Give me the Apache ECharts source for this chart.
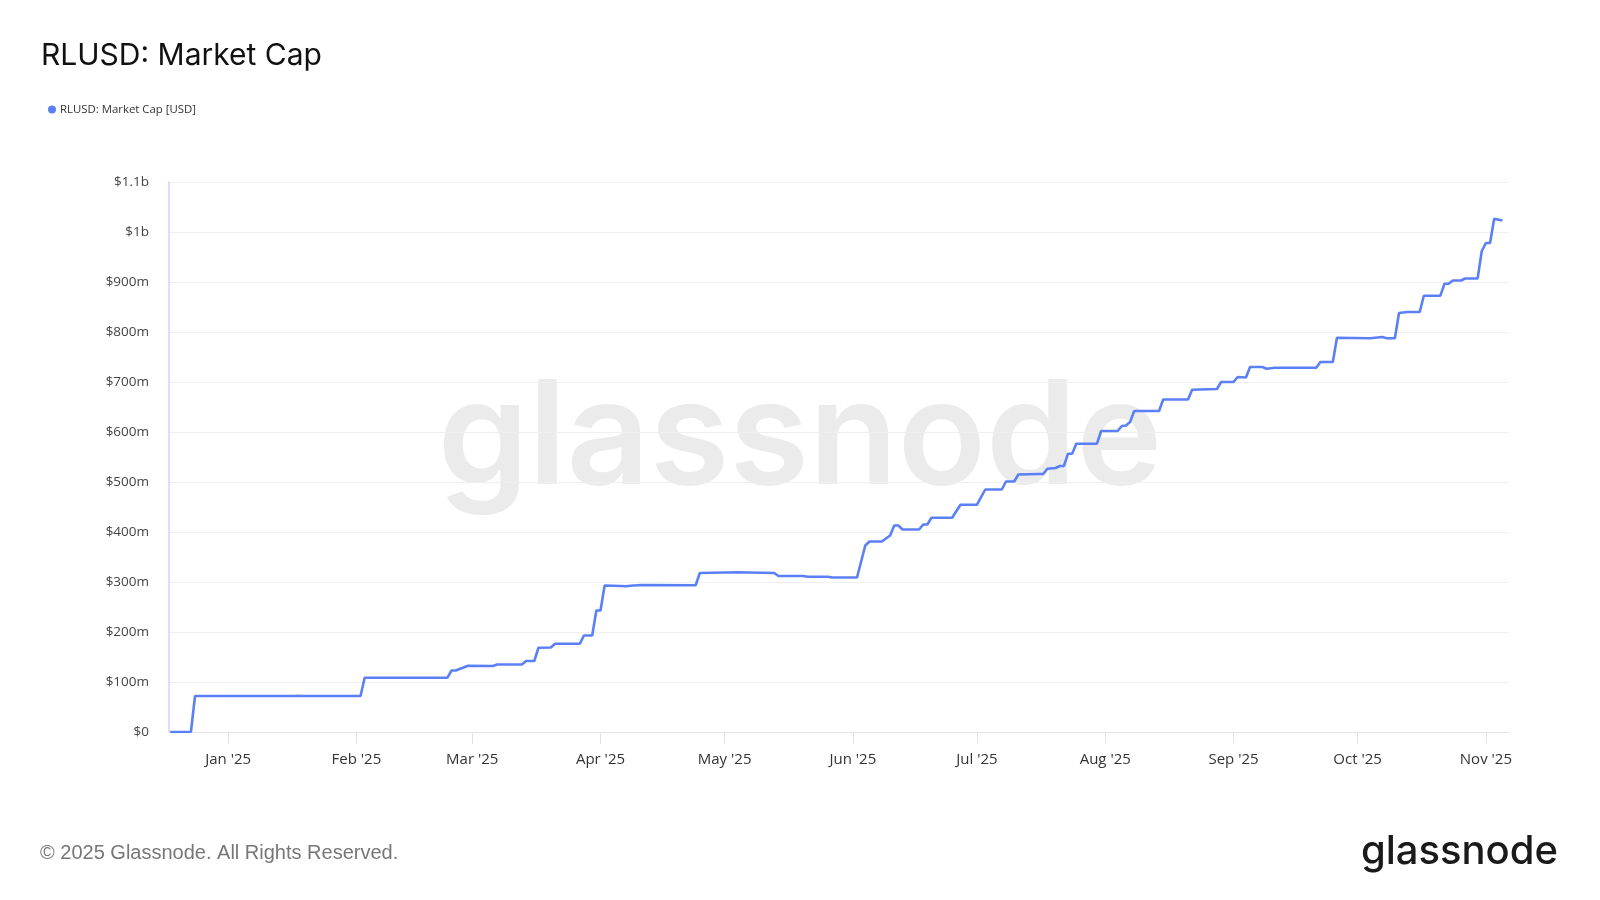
<!DOCTYPE html>
<html>
<head>
<meta charset="utf-8">
<script src="https://cdn.jsdelivr.net/npm/echarts@6/dist/echarts.min.js"></script>
<style>
html,body{margin:0;padding:0;background:#fff;}
#chart{width:1600px;height:900px;}
</style>
</head>
<body>
<div id="chart"></div>
<script>
// Dates of readings (breakpoints of the stepwise market cap)
const dates = [
  '2024-12-18','2024-12-23','2024-12-24','2025-01-17','2025-01-18','2025-01-19','2025-02-02','2025-02-03',
  '2025-02-23','2025-02-24','2025-02-25','2025-02-28','2025-03-06','2025-03-07','2025-03-13','2025-03-14',
  '2025-03-16','2025-03-17','2025-03-20','2025-03-21','2025-03-27','2025-03-28','2025-03-30','2025-03-31',
  '2025-04-01','2025-04-02','2025-04-06','2025-04-07','2025-04-09','2025-04-11','2025-04-24','2025-04-25',
  '2025-05-04','2025-05-13','2025-05-14','2025-05-20','2025-05-21','2025-05-26','2025-05-27','2025-06-02',
  '2025-06-04','2025-06-05','2025-06-08','2025-06-10','2025-06-11','2025-06-12','2025-06-13','2025-06-17',
  '2025-06-18','2025-06-19','2025-06-20','2025-06-25','2025-06-27','2025-07-01','2025-07-03','2025-07-07',
  '2025-07-08','2025-07-10','2025-07-11','2025-07-16','2025-07-17','2025-07-18','2025-07-20','2025-07-21',
  '2025-07-22','2025-07-23','2025-07-24','2025-07-25','2025-07-30','2025-07-31','2025-08-04','2025-08-05',
  '2025-08-06','2025-08-07','2025-08-08','2025-08-14','2025-08-15','2025-08-21','2025-08-22','2025-08-28',
  '2025-08-29','2025-09-01','2025-09-02','2025-09-04','2025-09-05','2025-09-08','2025-09-09','2025-09-11',
  '2025-09-21','2025-09-22','2025-09-25','2025-09-26','2025-10-04','2025-10-07','2025-10-08','2025-10-10',
  '2025-10-11','2025-10-13','2025-10-16','2025-10-17','2025-10-21','2025-10-22','2025-10-23','2025-10-24',
  '2025-10-26','2025-10-27','2025-10-30','2025-10-31','2025-11-01','2025-11-02','2025-11-03','2025-11-05'
];
// Market cap in millions of USD
const capMillions = [
  0,0,72,72,72.6,72,72,108.6,
  108.6,123,123,132.6,132,135,135,142,
  142,168.5,169,176.5,176.5,193,193,243,
  243,293,292,291.5,293,294,293.5,318,
  319.5,318,312,312,310.6,310.6,309,309,
  373,381,381,393,413,413,405,405,
  415,415,428.6,428.6,454.6,454.6,485,485,
  501,501,515,516,516,526.6,528,532,
  532,556.6,556.6,576.6,576.6,602,602,612,
  613,620,642,642,665,665,684.6,686,
  700,700,710,709,730,730,726.6,728.6,
  728.6,740,740,788.6,787.6,790,787.6,787.6,
  838,840,840,872.6,872.6,896.6,896.6,903,
  903,907,907,962,978,978,1026.6,1023
];
const yTicks = [0,100,200,300,400,500,600,700,800,900,1000,1100];
const monthNames = ['Jan','Feb','Mar','Apr','May','Jun','Jul','Aug','Sep','Oct','Nov','Dec'];

const seriesData = dates.map((d,i)=>[d, capMillions[i]*1e6]);

function fmtY(v){
  if (v === 0) return '$0';
  if (v >= 1e9) return '$' + (+(v/1e9).toFixed(2)) + 'b';
  return '$' + Math.round(v/1e6) + 'm';
}

const chart = echarts.init(document.getElementById('chart'), null, {renderer:'canvas'});
chart.setOption({
  backgroundColor:'#ffffff',
  animation:false,
  title:{
    text:'RLUSD: Market Cap',
    left:36, top:36,
    textStyle:{fontFamily:'Inter', fontSize:30, fontWeight:400, color:'#111'}
  },
  legend:{
    left:43, top:99,
    icon:'circle', itemWidth:8, itemHeight:8, itemGap:10,
    textStyle:{fontFamily:'Open Sans', fontSize:11.4, color:'#333', padding:[0,0,0,-1]},
    data:['RLUSD: Market Cap [USD]']
  },
  grid:{left:169, right:91, top:182, bottom:168, containLabel:false},
  xAxis:{
    type:'time',
    min:'2024-12-17 17:00',
    max:'2025-11-06 14:00',
    minInterval: 28*86400000,
    maxInterval: 31*86400000,
    axisLine:{show:true, lineStyle:{color:'#e3e3e3', width:1}},
    axisTick:{show:true, length:12, lineStyle:{color:'#e3e3e3'}},
    splitLine:{show:false},
    axisLabel:{
      margin:20,
      fontFamily:'Open Sans', fontSize:15, color:'#333',
      formatter:function(val){
        const d = new Date(val);
        if (d.getDate() !== 1) return '';
        return monthNames[d.getMonth()] + " '" + String(d.getFullYear()).slice(2);
      }
    }
  },
  yAxis:{
    type:'value',
    min:yTicks[0]*1e6, max:yTicks[yTicks.length-1]*1e6, interval:100e6,
    axisLine:{show:true, lineStyle:{color:'#c9d5ff', width:1.5}},
    axisTick:{show:false},
    splitLine:{show:true, lineStyle:{color:'#efefef', width:1}},
    axisLabel:{margin:20, fontFamily:'Open Sans', fontSize:13.5, color:'#444', formatter:fmtY}
  },
  graphic:[
    {type:'text', left:'center', top:368, z:-10, silent:true,
     style:{text:'glassnode', font:'600 145px Inter', fill:'#ebebeb'}},
    {type:'text', left:40, top:843,
     style:{text:'© 2025 Glassnode. All Rights Reserved.', font:'20px "Liberation Sans"', fill:'#777'}},
    {type:'text', right:42, top:832,
     style:{text:'glassnode', font:'500 40px Inter', fill:'#1a1a1a'}}
  ],
  series:[{
    name:'RLUSD: Market Cap [USD]',
    type:'line',
    data:seriesData,
    showSymbol:false,
    symbol:'circle',
    smooth:false,
    itemStyle:{color:'#5b80f6'},
    lineStyle:{color:'#5b80f6', width:2.6},
    z:5
  }]
});
</script>
</body>
</html>
